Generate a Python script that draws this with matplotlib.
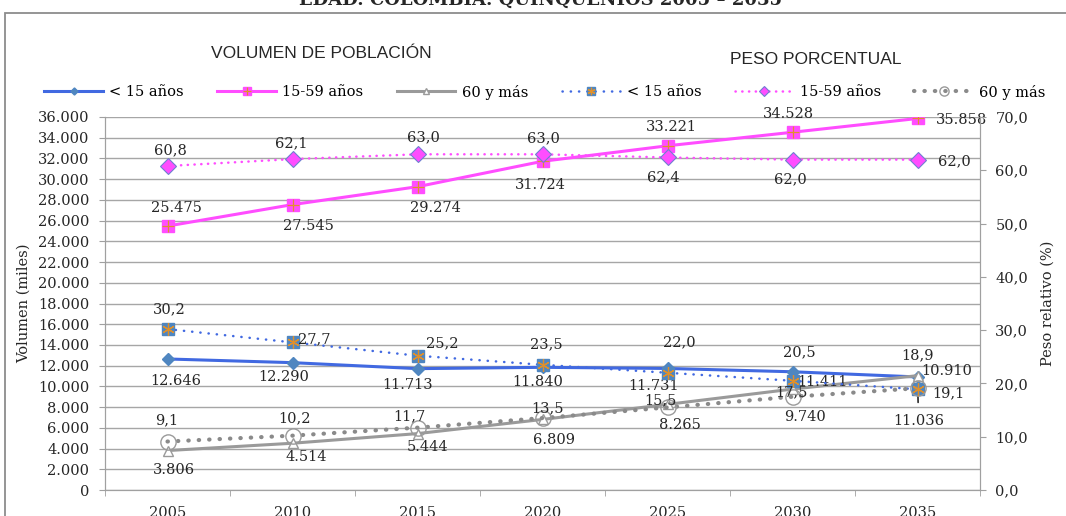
import matplotlib.pyplot as plt
from matplotlib.patches import Rectangle
from matplotlib.ticker import FuncFormatter, MultipleLocator, FixedLocator

# poblacion por grupos de edad, miles y %
years = ['2005', '2010', '2015', '2020', '2025', '2030', '2035']
vol_menor15 = [12646, 12290, 11713, 11840, 11731, 11411, 10910]
vol_15_59 = [25475, 27545, 29274, 31724, 33221, 34528, 35858]
vol_60mas = [3806, 4514, 5444, 6809, 8265, 9740, 11036]
pct_menor15 = [30.2, 27.7, 25.2, 23.5, 22.0, 20.5, 18.9]
pct_15_59 = [60.8, 62.1, 63.0, 63.0, 62.4, 62.0, 62.0]
pct_60mas = [9.1, 10.2, 11.7, 13.5, 15.5, 17.5, 19.1]

# desplazamiento de las etiquetas (pixeles)
off_vol_menor15 = [(8, -22), (-9, -14), (-10, -16), (-5, -15), (-14, -18), (30, -10), (29, 6)]
off_vol_15_59 = [(9, 18), (16, -21), (18, -21), (-2, -24), (4, 19), (-4, 18), (44, -2)]
off_vol_60mas = [(6, -19), (14, -14), (10, -13), (12, -21), (12, -21), (12, -28), (1, -45)]
off_pct_menor15 = [(2, 20), (22, 3), (25, 12), (4, 20), (12, 30), (7, 28), (0, 34)]
off_pct_15_59 = [(3, 16), (-1, 16), (6, 17), (1, 16), (-4, -20), (-2, -20), (37, -2)]
off_pct_60mas = [(-1, 21), (2, 17), (-8, 11), (5, 10), (-7, 7), (-1, 4), (31, -5)]

BLUE = '#4169e1'
STEEL = '#4f86c0'
MAG = '#ff4dff'
GRAY = '#9a9a9a'
DGRAY = '#8a8a8a'
ORANGE = '#e0902a'
TXT = '#262626'

serif = 'DejaVu Serif'
sans = ['Liberation Sans', 'DejaVu Sans']
plt.rcParams['font.family'] = serif
plt.rcParams['font.size'] = 10.5


def miles(v, pos=None):
    return f'{v:,.0f}'.replace(',', '.')


def pct(v, pos=None):
    return f'{v:.1f}'.replace('.', ',')


fig = plt.figure(figsize=(10.66, 5.16), dpi=100)
ax = fig.add_axes([105 / 1066, 26 / 516, 875 / 1066, 373 / 516])
ax2 = ax.twinx()

x = list(range(len(years)))

# volumen
l1, = ax.plot(x, vol_menor15, color=BLUE, lw=2.2, marker='D', ms=6,
              mfc=STEEL, mec=STEEL, zorder=3)
l2, = ax.plot(x, vol_15_59, color=MAG, lw=2.2, marker='s', ms=8.5,
              mfc=MAG, mec=MAG, zorder=3)
l2b, = ax.plot(x, vol_15_59, ls='none', marker='+', ms=9, mew=0.9,
               color=ORANGE, zorder=4)
l3, = ax.plot(x, vol_60mas, color=GRAY, lw=2.2, marker='^', ms=7.5,
              mfc='white', mec=GRAY, mew=1, zorder=3)

# peso porcentual
p1, = ax2.plot(x, pct_menor15, color=BLUE, lw=1.8, ls=(0, (0.1, 3.2)),
               dash_capstyle='round', marker='s', ms=8.5, mfc=STEEL, mec=STEEL, zorder=3)
p1b, = ax2.plot(x, pct_menor15, ls='none', marker=(6, 2, 0), ms=9, mew=0.9,
                color=ORANGE, zorder=4)
p2, = ax2.plot(x, pct_15_59, color=MAG, lw=1.8, ls=(0, (0.1, 2.6)),
               dash_capstyle='round', marker='D', ms=8, mfc=MAG, mec='#6f7fd0',
               mew=0.8, zorder=3)
p3, = ax2.plot(x, pct_60mas, color=DGRAY, lw=3, ls=(0, (0.1, 2.4)),
               dash_capstyle='round', marker='o', ms=11, mfc='none', mec=GRAY,
               mew=1, zorder=3)

for i in x:
    ax.annotate(miles(vol_menor15[i]), (i, vol_menor15[i]), xytext=off_vol_menor15[i],
                textcoords='offset pixels', ha='center', va='center', color=TXT, zorder=6)
    ax.annotate(miles(vol_15_59[i]), (i, vol_15_59[i]), xytext=off_vol_15_59[i],
                textcoords='offset pixels', ha='center', va='center', color=TXT, zorder=6)
    arrow = None
    if i == len(x) - 1:
        arrow = dict(arrowstyle='-', color='black', lw=1, shrinkA=6, shrinkB=7)
    ax.annotate(miles(vol_60mas[i]), (i, vol_60mas[i]), xytext=off_vol_60mas[i],
                textcoords='offset pixels', ha='center', va='center', color=TXT,
                arrowprops=arrow, zorder=6)
    ax2.annotate(pct(pct_menor15[i]), (i, pct_menor15[i]), xytext=off_pct_menor15[i],
                 textcoords='offset pixels', ha='center', va='center', color=TXT, zorder=6)
    ax2.annotate(pct(pct_15_59[i]), (i, pct_15_59[i]), xytext=off_pct_15_59[i],
                 textcoords='offset pixels', ha='center', va='center', color=TXT, zorder=6)
    ax2.annotate(pct(pct_60mas[i]), (i, pct_60mas[i]), xytext=off_pct_60mas[i],
                 textcoords='offset pixels', ha='center', va='center', color=TXT, zorder=6)

# ejes
ax.set_xlim(-0.5, len(years) - 0.5)
ax.set_ylim(0, 36000)
ax2.set_ylim(0, 70)
ax.yaxis.set_major_locator(MultipleLocator(2000))
ax.yaxis.set_major_formatter(FuncFormatter(miles))
ax2.yaxis.set_major_locator(MultipleLocator(10))
ax2.yaxis.set_major_formatter(FuncFormatter(pct))
ax.set_xticks(x)
ax.set_xticklabels(years)
ax.xaxis.set_minor_locator(FixedLocator([i + 0.5 for i in range(-1, len(years))]))
ax.tick_params(axis='x', which='major', length=0, pad=11.5, colors=TXT)
ax.tick_params(axis='x', which='minor', length=4, color='#a0a0a0')
ax.tick_params(axis='y', length=4.5, pad=7, color='#a0a0a0', labelcolor=TXT)
ax2.tick_params(axis='y', length=4, pad=7, color='#a0a0a0', labelcolor=TXT)
ax.grid(axis='y', color='#a6a6a6', lw=1)
ax.set_axisbelow(True)
for a in (ax, ax2):
    a.spines['top'].set_visible(False)
    for s in ('left', 'right', 'bottom'):
        a.spines[s].set_color('#a0a0a0')
ax.set_ylabel('Volumen (miles)', color=TXT, labelpad=5)
ax2.set_ylabel('Peso relativo (%)', color=TXT, labelpad=9)

# titulos y leyenda
fig.text(541 / 1066, 1 - 5 / 516, 'EDAD. COLOMBIA. QUINQUENIOS 2005 \u2013 2035',
         ha='center', va='baseline', fontsize=13, fontweight='bold', color=TXT)
fig.text(321 / 1066, 1 - 53 / 516, 'VOLUMEN DE POBLACIÓN', ha='center', va='center',
         family=sans, fontsize=12.5, color=TXT)
fig.text(816 / 1066, 1 - 60 / 516, 'PESO PORCENTUAL', ha='center', va='center',
         family=sans, fontsize=12.5, color=TXT)

handles = [l1, (l2, l2b), l3, (p1, p1b), p2, p3]
labels = ['< 15 años', '15-59 años', '60 y más', '< 15 años', '15-59 años', '60 y más']
fig.legend(handles, labels, loc='center', bbox_to_anchor=(545 / 1066, 1 - 92 / 516),
           ncol=6, frameon=False, numpoints=1, markerscale=0.6, handlelength=4.0,
           handletextpad=0.45, columnspacing=2.3, prop={'family': serif, 'size': 10.5})

fig.patches.append(Rectangle((5 / 1066, -0.1), 2, 1.1 - 13 / 516, transform=fig.transFigure,
                             fill=False, edgecolor='#8c8c8c', lw=1.3))

fig.savefig('out.png', dpi=100)
